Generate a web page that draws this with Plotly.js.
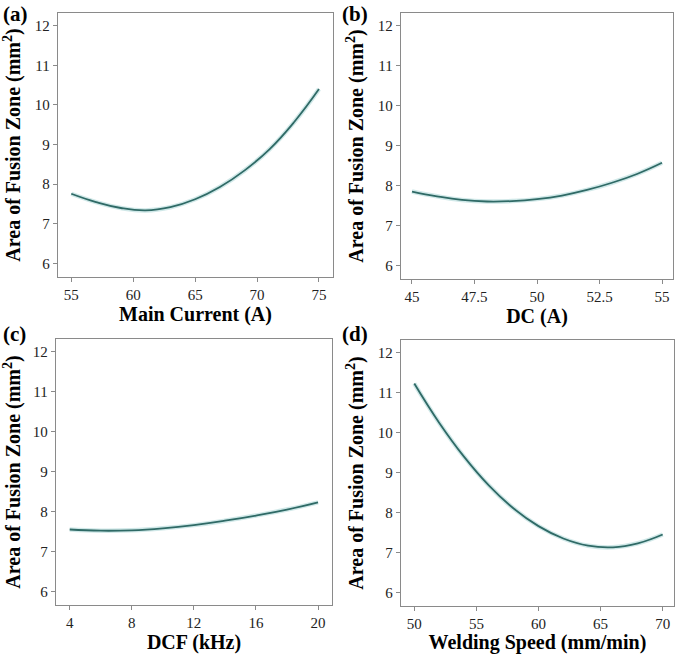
<!DOCTYPE html>
<html>
<head>
<meta charset="utf-8">
<script src="https://cdn.plot.ly/plotly-3.0.1.min.js"></script>
<style>html,body{margin:0;padding:0;background:#fff;}#chart{width:685px;height:654px;}</style>
</head>
<body>
<div id="chart"></div>
<script>
// (a) Main Current
const currentX = [55, 57, 59, 61, 63, 65, 67, 69, 71, 73, 75];
const currentY = [7.76, 7.55, 7.40, 7.34, 7.42, 7.62, 7.93, 8.35, 8.88, 9.57, 10.40];
const currentTicks = [55, 60, 65, 70, 75];
// (b) DC
const dcX = [45, 46, 47, 48, 49, 50, 51, 52, 53, 54, 55];
const dcY = [7.85, 7.73, 7.64, 7.60, 7.61, 7.66, 7.75, 7.89, 8.07, 8.29, 8.57];
const dcTicks = [45, 47.5, 50, 52.5, 55];
// (c) DCF
const dcfX = [4, 6, 8, 10, 12, 14, 16, 18, 20];
const dcfY = [7.55, 7.52, 7.53, 7.58, 7.66, 7.77, 7.90, 8.05, 8.23];
const dcfTicks = [4, 8, 12, 16, 20];
// (d) Welding speed
const speedX = [50, 52, 54, 56, 58, 60, 62, 64, 66, 68, 70];
const speedY = [11.23, 10.25, 9.40, 8.68, 8.10, 7.66, 7.35, 7.17, 7.13, 7.23, 7.45];
const speedTicks = [50, 55, 60, 65, 70];

const yTicks = [6, 7, 8, 9, 10, 11, 12];
const panelLabels = ['(a)', '(b)', '(c)', '(d)'];
const xTitles = ['Main Current (A)', 'DC (A)', 'DCF (kHz)', 'Welding Speed (mm/min)'];
const yTitle = 'Area of Fusion Zone (mm<sup>2</sup>)';

const serif = 'Liberation Serif';
const lineColor = '#2f6a66';
const haloColor = 'rgba(120,190,190,0.35)';

const sets = [
  {x: currentX, y: currentY, ticks: currentTicks, xr: [53.93, 76.13], dx: [0.0847, 0.4861], dy: [0.5765, 0.9801]},
  {x: dcX, y: dcY, ticks: dcTicks, xr: [44.56, 55.44], dx: [0.5854, 0.9825], dy: [0.5734, 0.9801]},
  {x: dcfX, y: dcfY, ticks: dcfTicks, xr: [3.12, 20.9], dx: [0.0818, 0.4847], dy: [0.0749, 0.4817]},
  {x: speedX, y: speedY, ticks: speedTicks, xr: [48.93, 70.91], dx: [0.5854, 0.9839], dy: [0.0734, 0.4801]}
];

const traces = [];
const layout = {
  width: 685, height: 654,
  margin: {l: 0, r: 0, t: 0, b: 0},
  paper_bgcolor: '#ffffff', plot_bgcolor: '#ffffff',
  showlegend: false,
  font: {family: serif, color: '#000'},
  annotations: []
};

sets.forEach((s, i) => {
  const n = i + 1;
  const xa = n === 1 ? 'x' : 'x' + n;
  const ya = n === 1 ? 'y' : 'y' + n;
  traces.push({x: s.x, y: s.y, xaxis: xa, yaxis: ya, mode: 'lines', type: 'scatter',
    line: {color: haloColor, width: 4.5, shape: 'spline', smoothing: 1.3}, hoverinfo: 'skip'});
  traces.push({x: s.x, y: s.y, xaxis: xa, yaxis: ya, mode: 'lines', type: 'scatter',
    line: {color: lineColor, width: 1.8, shape: 'spline', smoothing: 1.3}});
  const common = {
    showline: true, mirror: true, linecolor: '#8a8a8a', linewidth: 1.3,
    ticks: 'outside', ticklen: 4, tickcolor: '#8a8a8a', tickwidth: 1,
    showgrid: false, zeroline: false,
    tickfont: {family: serif, size: 15, color: '#222'}
  };
  layout['xaxis' + (n === 1 ? '' : n)] = Object.assign({}, common, {
    domain: s.dx, range: s.xr, anchor: ya,
    tickmode: 'array', tickvals: s.ticks, ticktext: s.ticks.map(String),
    title: {text: '<b>' + xTitles[i] + '</b>', font: {family: serif, size: 20, color: '#000'}, standoff: 3}
  });
  layout['yaxis' + (n === 1 ? '' : n)] = Object.assign({}, common, {
    domain: s.dy, range: [5.66, 12.32], anchor: xa,
    tickmode: 'array', tickvals: yTicks, ticktext: yTicks.map(String),
    title: {text: '<b>' + yTitle + '</b>', font: {family: serif, size: 20, color: '#000'}, standoff: 8}
  });
  const lx = (i % 2 === 0) ? 0.002 : 0.497;
  const ly = (i < 2) ? 1.0 : 0.511;
  layout.annotations.push({
    text: '<b>' + panelLabels[i] + '</b>', xref: 'paper', yref: 'paper',
    x: lx, y: ly, xanchor: 'left', yanchor: 'top', showarrow: false,
    font: {family: serif, size: 21, color: '#000'}
  });
});

Plotly.newPlot('chart', traces, layout, {displayModeBar: false, staticPlot: true});
</script>
</body>
</html>
